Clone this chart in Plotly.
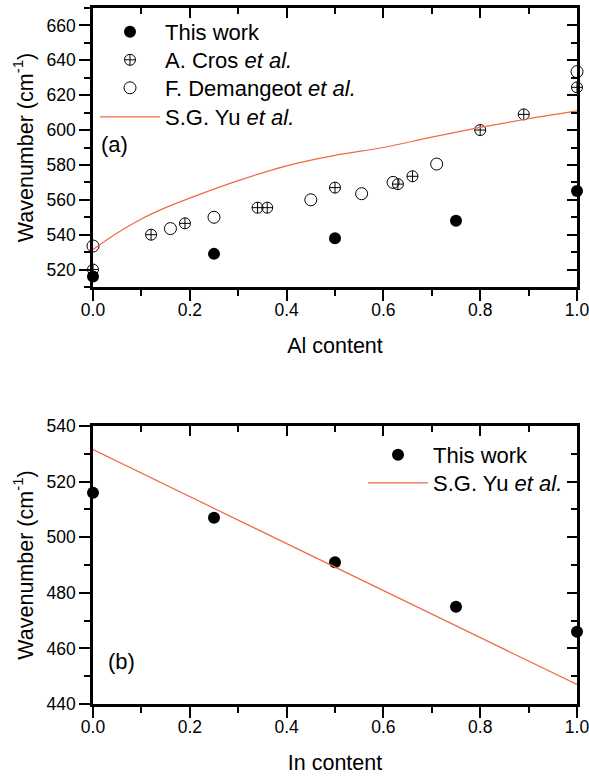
import plotly.graph_objects as go

# ---- Data ----
# Panel (a): Al content
al_this_x = [0.0, 0.25, 0.5, 0.75, 1.0]
al_this_y = [516, 529, 538, 548, 565]

cros_x = [0.0, 0.12, 0.19, 0.34, 0.36, 0.5, 0.63, 0.66, 0.8, 0.89, 1.0]
cros_y = [520, 540, 546.5, 555.5, 555.5, 567, 569, 573.5, 600, 609, 624.5]

dem_x = [0.0, 0.16, 0.25, 0.45, 0.555, 0.62, 0.71, 1.0]
dem_y = [533.5, 543.5, 550, 560, 563.5, 570, 580.5, 633.5]

yu_al_x = [0.0, 0.05, 0.1, 0.15, 0.2, 0.3, 0.4, 0.5, 0.6, 0.7, 0.8, 0.9, 1.0]
yu_al_y = [531.5, 541, 549, 555.5, 561, 571, 579.5, 585.5, 590, 596, 601.5, 606.5, 611]

# Panel (b): In content
in_this_x = [0.0, 0.25, 0.5, 0.75, 1.0]
in_this_y = [516, 507, 491, 475, 466]

yu_in_x = [0.0, 1.0]
yu_in_y = [531.5, 447]

xticks = [0.0, 0.2, 0.4, 0.6, 0.8, 1.0]

ORANGE = "#EE6A45"
FONT = "Liberation Sans, Arial, sans-serif"

fig = go.Figure()

# ---- panel (a) ----
fig.add_trace(go.Scatter(x=al_this_x, y=al_this_y, mode="markers", name="This work",
                         marker=dict(symbol="circle", size=12, color="black"),
                         cliponaxis=False, xaxis="x", yaxis="y", legend="legend"))
fig.add_trace(go.Scatter(x=cros_x, y=cros_y, mode="markers", name="A. Cros <i>et al.</i>",
                         marker=dict(symbol="circle-cross-open", size=11, color="black",
                                     line=dict(width=1)),
                         cliponaxis=False, xaxis="x", yaxis="y", legend="legend3"))
fig.add_trace(go.Scatter(x=dem_x, y=dem_y, mode="markers", name="F. Demangeot <i>et al.</i>",
                         marker=dict(symbol="circle-open", size=12, color="black",
                                     line=dict(width=1)),
                         cliponaxis=False, xaxis="x", yaxis="y", legend="legend4"))
fig.add_trace(go.Scatter(x=yu_al_x, y=yu_al_y, mode="lines", name="S.G. Yu <i>et al.</i>",
                         line=dict(color=ORANGE, width=1.2, shape="spline"),
                         xaxis="x", yaxis="y", legend="legend5"))

# ---- panel (b) ----
fig.add_trace(go.Scatter(x=in_this_x, y=in_this_y, mode="markers", name="This work",
                         marker=dict(symbol="circle", size=12, color="black"),
                         cliponaxis=False, xaxis="x2", yaxis="y2", legend="legend2"))
fig.add_trace(go.Scatter(x=yu_in_x, y=yu_in_y, mode="lines", name="S.G. Yu <i>et al.</i>",
                         line=dict(color=ORANGE, width=1.2),
                         xaxis="x2", yaxis="y2", legend="legend6"))

# empty traces so the mirror (top/right) axes are drawn
fig.add_trace(go.Scatter(x=[], y=[], xaxis="x3", yaxis="y3", showlegend=False))
fig.add_trace(go.Scatter(x=[], y=[], xaxis="x4", yaxis="y4", showlegend=False))

XDOM = [93 / 589, 577 / 589]
YDOM_A = [1 - 287 / 776, 1 - 8 / 776]
YDOM_B = [1 - 704 / 776, 1 - 426 / 776]

tickfont = dict(family=FONT, size=17.5, color="black")
titlefont = dict(family=FONT, size=21.5, color="black")
legfont = dict(family=FONT, size=22, color="black")


def minor(kind, dt):
    return dict(ticks=kind, ticklen=6, tickwidth=2, tickcolor="black", dtick=dt, tick0=0,
                showgrid=False)


def main_axis(**kw):
    d = dict(showgrid=False, zeroline=False, showline=True, linecolor="black", linewidth=2.5,
             ticks="outside", ticklen=11, tickwidth=2, tickcolor="black", tickfont=tickfont,
             automargin=False, ticklabeloverflow="allow")
    d.update(kw)
    return d


def mirror_axis(**kw):
    d = dict(showgrid=False, zeroline=False, showline=True, linecolor="black", linewidth=2.5,
             ticks="inside", ticklen=10, tickwidth=2, tickcolor="black", showticklabels=False,
             automargin=False)
    d.update(kw)
    return d


def leg(xpx, ypx):
    return dict(x=xpx / 589, y=1 - ypx / 776, xanchor="left", yanchor="middle",
                bgcolor="rgba(0,0,0,0)", font=legfont, itemwidth=60, tracegroupgap=0)


fig.update_layout(
    width=589, height=776,
    margin=dict(l=0, r=0, t=0, b=0),
    paper_bgcolor="white", plot_bgcolor="white",
    font=dict(family=FONT, color="black"),
    xaxis=main_axis(domain=XDOM, anchor="y", range=[0, 1], tickvals=xticks, tickformat=".1f",
                    minor=minor("outside", 0.1), ticklabelstandoff=-6,
                    title=dict(text="Al content", font=titlefont, standoff=20)),
    yaxis=main_axis(domain=YDOM_A, anchor="x", range=[510, 670], dtick=20, tick0=0,
                    minor=minor("outside", 10),
                    title=dict(text="Wavenumber (cm<sup>-1</sup>)", font=titlefont, standoff=8)),
    xaxis3=mirror_axis(overlaying="x", side="top", anchor="y", range=[0, 1], dtick=0.2, tick0=0,
                       minor=minor("inside", 0.1)),
    yaxis3=mirror_axis(overlaying="y", side="right", anchor="x3", range=[510, 670], dtick=20,
                       tick0=0, minor=minor("inside", 10)),
    xaxis2=main_axis(domain=XDOM, anchor="y2", range=[0, 1], tickvals=xticks, tickformat=".1f",
                     minor=minor("outside", 0.1), ticklabelstandoff=-6,
                     title=dict(text="In content", font=titlefont, standoff=20)),
    yaxis2=main_axis(domain=YDOM_B, anchor="x2", range=[440, 540], dtick=20, tick0=0,
                     minor=minor("outside", 10),
                     title=dict(text="Wavenumber (cm<sup>-1</sup>)", font=titlefont, standoff=8)),
    xaxis4=mirror_axis(overlaying="x2", side="top", anchor="y2", range=[0, 1], dtick=0.2, tick0=0,
                       minor=minor("inside", 0.1)),
    yaxis4=mirror_axis(overlaying="y2", side="right", anchor="x4", range=[440, 540], dtick=20,
                       tick0=0, minor=minor("inside", 10)),
    legend=leg(95, 32),
    legend3=leg(95, 60),
    legend4=leg(95, 88),
    legend5=leg(95, 117),
    legend2=leg(363, 455),
    legend6=leg(363, 483),
    showlegend=True,
    annotations=[
        dict(text="(a)", xref="x domain", yref="y domain", x=0.013, y=0.509,
             xanchor="left", yanchor="middle", showarrow=False,
             font=dict(family=FONT, size=22, color="black")),
        dict(text="(b)", xref="x2 domain", yref="y2 domain", x=0.027, y=0.152,
             xanchor="left", yanchor="middle", showarrow=False,
             font=dict(family=FONT, size=22, color="black")),
    ],
)

fig.write_html("out.html", config={"displayModeBar": False},
               post_script="document.body.style.margin='0';")
